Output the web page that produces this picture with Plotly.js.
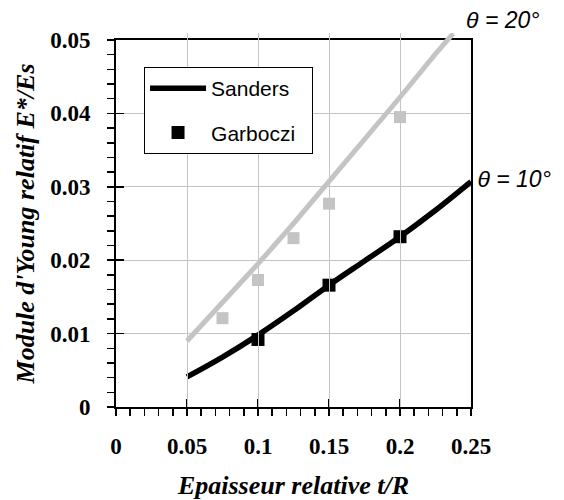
<!DOCTYPE html>
<html>
<head>
<meta charset="utf-8">
<script src="https://cdn.plot.ly/plotly-3.0.1.min.js"></script>
<style>html,body{margin:0;padding:0;background:#fff;}#chart{width:564px;height:500px;}</style>
</head>
<body>
<div id="chart"></div>
<script>
// Sanders model curves (theta = 10° and theta = 20°)
var sanders10_x = [0.05, 0.075, 0.1, 0.125, 0.15, 0.175, 0.2, 0.225, 0.25];
var sanders10_y = [0.0041, 0.0068, 0.0098, 0.0131, 0.0166, 0.0199, 0.0232, 0.0268, 0.0307];
var sanders20_x = [0.05, 0.075, 0.1, 0.125, 0.15, 0.175, 0.2, 0.225, 0.2375];
var sanders20_y = [0.0090, 0.0142, 0.0195, 0.0250, 0.0307, 0.0364, 0.0422, 0.0481, 0.0509];
// Garboczi points
var garb10_x = [0.1, 0.15, 0.2];
var garb10_y = [0.0092, 0.0166, 0.0232];
var garb20_x = [0.075, 0.1, 0.125, 0.15, 0.2];
var garb20_y = [0.0121, 0.0173, 0.0230, 0.0277, 0.0395];
var curveLabels = ['θ = 10°', 'θ = 20°'];
var seriesNames = ['Sanders', 'Garboczi'];
var xTickVals = [0, 0.05, 0.1, 0.15, 0.2, 0.25];
var xTickText = ['0', '0.05', '0.1', '0.15', '0.2', '0.25'];
var yTickVals = [0, 0.01, 0.02, 0.03, 0.04, 0.05];
var yTickText = ['0', '0.01', '0.02', '0.03', '0.04', '0.05'];

var GRAY = '#c4c4c4';
var D = 367 / 374; // main y-domain fraction (grey curve overshoots the frame)
function last(a) { return [a[a.length - 1]]; }
var labelFont = {family: 'Liberation Sans', size: 23, color: '#000', style: 'italic'};
var SERIF = '"Liberation Serif", "Times New Roman", serif';

var traces = [
  {x: sanders20_x, y: sanders20_y, xaxis: 'x', yaxis: 'y2', mode: 'lines',
   line: {color: GRAY, width: 5}, showlegend: false, hoverinfo: 'skip'},
  {x: sanders10_x, y: sanders10_y, mode: 'lines', name: seriesNames[0] + '\u00a0\u00a0',
   line: {color: '#000', width: 5.5, shape: 'spline'}, legendgroup: 'a'},
  {x: garb20_x, y: garb20_y, mode: 'markers', showlegend: false,
   marker: {symbol: 'square', size: 12, color: GRAY}},
  {x: garb10_x, y: garb10_y, mode: 'markers', name: seriesNames[1] + '\u00a0\u00a0', legendgroup: 'b',
   marker: {symbol: 'square', size: 13, color: '#000'}},
  {x: last(sanders20_x), y: last(sanders20_y), xaxis: 'x', yaxis: 'y2', mode: 'text',
   text: ['\u00a0\u00a0' + curveLabels[1]], textposition: 'top right', textfont: labelFont,
   cliponaxis: false, showlegend: false, hoverinfo: 'skip'},
  {x: last(sanders10_x), y: last(sanders10_y), mode: 'text',
   text: ['\u00a0' + curveLabels[0]], textposition: 'middle right', textfont: labelFont,
   cliponaxis: false, showlegend: false, hoverinfo: 'skip'}
];

var tickFont = {family: SERIF, size: 23, color: '#000', weight: 'bold'};
var layout = {
  width: 564, height: 500,
  margin: {l: 116, r: 93, t: 33, b: 93},
  paper_bgcolor: '#fff', plot_bgcolor: 'rgba(0,0,0,0)',
  showlegend: true,
  xaxis: {
    range: [0, 0.25], tickmode: 'array', tickvals: xTickVals, ticktext: xTickText,
    ticks: 'outside', ticklen: 7, tickwidth: 1.5, tickcolor: '#000',
    minor: {dtick: 0.01, tick0: 0, ticks: 'outside', ticklen: 7, tickwidth: 1.5, tickcolor: '#000', showgrid: false},
    showgrid: true, gridcolor: GRAY, gridwidth: 1,
    showline: true, linecolor: '#000', linewidth: 2, mirror: true,
    zeroline: false, tickfont: tickFont, ticklabelstandoff: 10,
    title: {text: '<b><i>Epaisseur relative t/R</i></b>', font: {family: SERIF, size: 26, color: '#000'}, standoff: 19},
    anchor: 'y'
  },
  yaxis: {
    domain: [0, D], range: [0, 0.05], tickmode: 'array', tickvals: yTickVals, ticktext: yTickText,
    ticks: 'outside', ticklen: 7, tickwidth: 1.5, tickcolor: '#000',
    minor: {dtick: 0.002, tick0: 0, ticks: 'outside', ticklen: 7, tickwidth: 1.5, tickcolor: '#000', showgrid: false},
    showgrid: true, gridcolor: GRAY, gridwidth: 1,
    showline: true, linecolor: '#000', linewidth: 2, mirror: true,
    zeroline: false, tickfont: tickFont, ticklabelstandoff: 12,
    title: {text: "<b><i>Module d'Young relatif E*/Es</i></b>", font: {family: SERIF, size: 26, color: '#000'}, standoff: 8},
    anchor: 'x'
  },
  yaxis2: {domain: [0, 1], range: [0, 0.05 / D], visible: false, anchor: 'x', fixedrange: true},
  xaxis3: {overlaying: 'x', range: [0, 0.25], anchor: 'y', side: 'bottom', tickmode: 'array', tickvals: xTickVals,
    ticks: 'inside', ticklen: 8, tickwidth: 1.5, tickcolor: '#000', showticklabels: false,
    showgrid: false, zeroline: false, showline: false},
  yaxis3: {overlaying: 'y', range: [0, 0.05], anchor: 'x', side: 'left', tickmode: 'array', tickvals: yTickVals,
    ticks: 'inside', ticklen: 8, tickwidth: 1.5, tickcolor: '#000', showticklabels: false,
    showgrid: false, zeroline: false, showline: false},
  legend: {
    x: 0.079, y: 0.909, xanchor: 'left', yanchor: 'top',
    bgcolor: '#fff', bordercolor: '#000', borderwidth: 1,
    font: {family: 'Liberation Sans', size: 21, color: '#000'},
    itemwidth: 56, traceorder: 'grouped', tracegroupgap: 14
  }
};

// empty trace so the overlay (crossing) tick axes are drawn
traces.push({x: [null], y: [null], xaxis: 'x3', yaxis: 'y3', showlegend: false, hoverinfo: 'skip', mode: 'markers'});

Plotly.newPlot('chart', traces, layout, {staticPlot: true}).then(function (gd) {
  // re-assert the serif font on the tick labels
  gd.querySelectorAll('g.xtick text, g.ytick text').forEach(function (t) {
    t.setAttribute('font-family', 'Liberation Serif');
    t.style.fontFamily = SERIF;
    t.style.fontWeight = 'bold';
  });
});
</script>
</body>
</html>
